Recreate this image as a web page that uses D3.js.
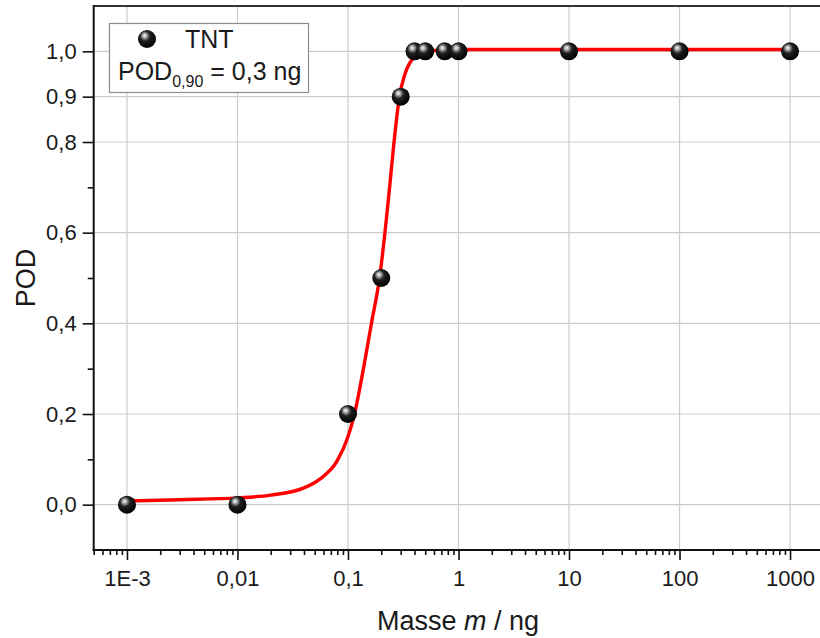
<!DOCTYPE html>
<html>
<head>
<meta charset="utf-8">
<script src="https://cdn.jsdelivr.net/npm/d3@7"></script>
<style>
  html, body { margin: 0; padding: 0; background: #fff; }
  svg { display: block; }
  text { font-family: "Liberation Sans", Arial, sans-serif; fill: #1a1a1a; }
</style>
</head>
<body>
<svg id="chart" width="820" height="638"></svg>
<script>
// Measured detection probability (POD) for TNT versus sample mass
const massNg = [0.001, 0.01, 0.1, 0.2, 0.3, 0.4, 0.5, 0.75, 1, 10, 100, 1000];
const pod    = [0,     0,    0.2, 0.5, 0.9, 1,   1,   1,    1, 1,  1,   1];

// Fitted POD curve, sampled
const fitMass = [0.001, 0.003, 0.01, 0.02, 0.04, 0.056, 0.08, 0.1, 0.1145, 0.138, 0.163, 0.193,
                 0.216, 0.238, 0.261, 0.292, 0.328, 0.408, 0.503, 1, 1000];
const fitPod  = [0.008, 0.011, 0.015, 0.021, 0.037, 0.057, 0.097, 0.15, 0.2, 0.3, 0.4, 0.5,
                 0.6, 0.7, 0.8, 0.9, 0.95, 0.99, 1.0, 1.004, 1.004];

// Axis ticks and labels
const xMajor = [0.001, 0.01, 0.1, 1, 10, 100, 1000];
const xMajorLabels = ["1E-3", "0,01", "0,1", "1", "10", "100", "1000"];
const yMajor = [0, 0.2, 0.4, 0.6, 0.8, 0.9, 1.0];
const yMajorLabels = ["0,0", "0,2", "0,4", "0,6", "0,8", "0,9", "1,0"];
const yMinor = [0.1, 0.3, 0.5, 0.7];

const seriesName = "TNT";
const xTitle = "Masse";
const xTitleVar = "m";
const xTitleUnit = " / ng";
const yTitle = "POD";

const svg = d3.select("#chart");

const plot = { left: 93.7, right: 823.3, top: 6, bottom: 550 };
const x = d3.scaleLog().domain([5e-4, 2000]).range([plot.left, plot.right]);
const y = d3.scaleLinear().domain([-0.1, 1.1]).range([plot.bottom, plot.top]);

// minor log ticks: 2..9 of every decade inside the domain
const xMinor = [];
for (let e = -4; e <= 3; e++) {
  for (let k = 2; k <= 9; k++) {
    const v = k * Math.pow(10, e);
    if (v >= 5e-4 - 1e-12 && v <= 2000 + 1e-9) xMinor.push(v);
  }
}

// sphere marker gradient
const defs = svg.append("defs");
const grad = defs.append("radialGradient")
  .attr("id", "ball").attr("cx", "0.42").attr("cy", "0.38").attr("r", "0.62")
  .attr("fx", "0.36").attr("fy", "0.3");
grad.append("stop").attr("offset", "0").attr("stop-color", "#ffffff");
grad.append("stop").attr("offset", "0.18").attr("stop-color", "#b0b0b0");
grad.append("stop").attr("offset", "0.45").attr("stop-color", "#202020");
grad.append("stop").attr("offset", "1").attr("stop-color", "#000000");

// grid
const grid = svg.append("g").attr("class", "grid");
grid.selectAll("line.gx").data(xMajor).join("line")
  .attr("x1", d => x(d)).attr("x2", d => x(d))
  .attr("y1", plot.top).attr("y2", plot.bottom)
  .attr("stroke", "#cccccc").attr("stroke-width", 1.2);
grid.selectAll("line.gy").data(yMajor).join("line")
  .attr("x1", plot.left).attr("x2", plot.right)
  .attr("y1", d => y(d)).attr("y2", d => y(d))
  .attr("stroke", "#cccccc").attr("stroke-width", 1.2);

// top frame line
svg.append("line")
  .attr("x1", plot.left).attr("x2", plot.right)
  .attr("y1", plot.top).attr("y2", plot.top)
  .attr("stroke", "#333").attr("stroke-width", 2);

// x axis
const xAxisG = svg.append("g").attr("transform", `translate(0,${plot.bottom})`);
xAxisG.append("g").call(
  d3.axisBottom(x).tickValues(xMinor).tickSize(5).tickSizeOuter(0).tickFormat(""))
  .call(g => g.select(".domain").remove());
xAxisG.append("g").call(
  d3.axisBottom(x).tickValues(xMajor).tickSize(10).tickSizeOuter(0)
    .tickFormat((d, i) => xMajorLabels[i]))
  .call(g => g.select(".domain").remove())
  .call(g => g.selectAll("text").attr("dy", "0").attr("y", 36)
    .style("font-size", "22px").style("font-family", '"Liberation Sans", Arial, sans-serif')
    .attr("fill", "#1a1a1a"));
xAxisG.selectAll(".tick line").attr("stroke", "#111").attr("stroke-width", 1.6);
xAxisG.append("line").attr("x1", plot.left - 1).attr("x2", plot.right)
  .attr("stroke", "#111").attr("stroke-width", 2);

// y axis
const yAxisG = svg.append("g").attr("transform", `translate(${plot.left},0)`);
yAxisG.append("g").call(
  d3.axisLeft(y).tickValues(yMinor).tickSize(6).tickSizeOuter(0).tickFormat(""))
  .call(g => g.select(".domain").remove());
yAxisG.append("g").call(
  d3.axisLeft(y).tickValues(yMajor).tickSize(11).tickSizeOuter(0)
    .tickFormat((d, i) => yMajorLabels[i]))
  .call(g => g.select(".domain").remove())
  .call(g => g.selectAll("text").attr("x", -17)
    .style("font-size", "22px").style("font-family", '"Liberation Sans", Arial, sans-serif')
    .attr("fill", "#1a1a1a"));
yAxisG.selectAll(".tick line").attr("stroke", "#111").attr("stroke-width", 1.6);
yAxisG.append("line").attr("y1", plot.top - 1).attr("y2", plot.bottom + 1)
  .attr("stroke", "#111").attr("stroke-width", 2);

// fitted curve
const fitPts = fitMass.map((m, i) => [m, fitPod[i]]);
const line = d3.line().x(d => x(d[0])).y(d => y(d[1])).curve(d3.curveMonotoneX);
svg.append("path").datum(fitPts)
  .attr("d", line).attr("fill", "none")
  .attr("stroke", "#ff0000").attr("stroke-width", 3.4);

// measured points
const pts = massNg.map((m, i) => [m, pod[i]]);
svg.append("g").selectAll("circle").data(pts).join("circle")
  .attr("cx", d => x(d[0])).attr("cy", d => y(d[1])).attr("r", 9)
  .attr("fill", "url(#ball)");

// legend
const lg = svg.append("g");
lg.append("rect").attr("x", 109.5).attr("y", 23.5).attr("width", 199).attr("height", 69)
  .attr("fill", "#fff").attr("stroke", "#8c8c8c").attr("stroke-width", 1.2);
lg.append("circle").attr("cx", 147).attr("cy", 39).attr("r", 9).attr("fill", "url(#ball)");
lg.append("text").attr("x", 185).attr("y", 48).style("font-size", "25px").text(seriesName);
const podText = lg.append("text").attr("x", 118).attr("y", 80).style("font-size", "25px");
podText.append("tspan").text("POD");
podText.append("tspan").attr("dy", 7).style("font-size", "16px").text("0,90");
podText.append("tspan").attr("dy", -7).text(" = 0,3 ng");

// axis titles
const xt = svg.append("text").attr("x", 458).attr("y", 630)
  .attr("text-anchor", "middle").style("font-size", "27px");
xt.append("tspan").text(xTitle + " ");
xt.append("tspan").style("font-style", "italic").text(xTitleVar);
xt.append("tspan").text(xTitleUnit);

svg.append("text").attr("transform", `translate(35,278) rotate(-90)`)
  .attr("text-anchor", "middle").style("font-size", "27px").text(yTitle);
</script>
</body>
</html>
